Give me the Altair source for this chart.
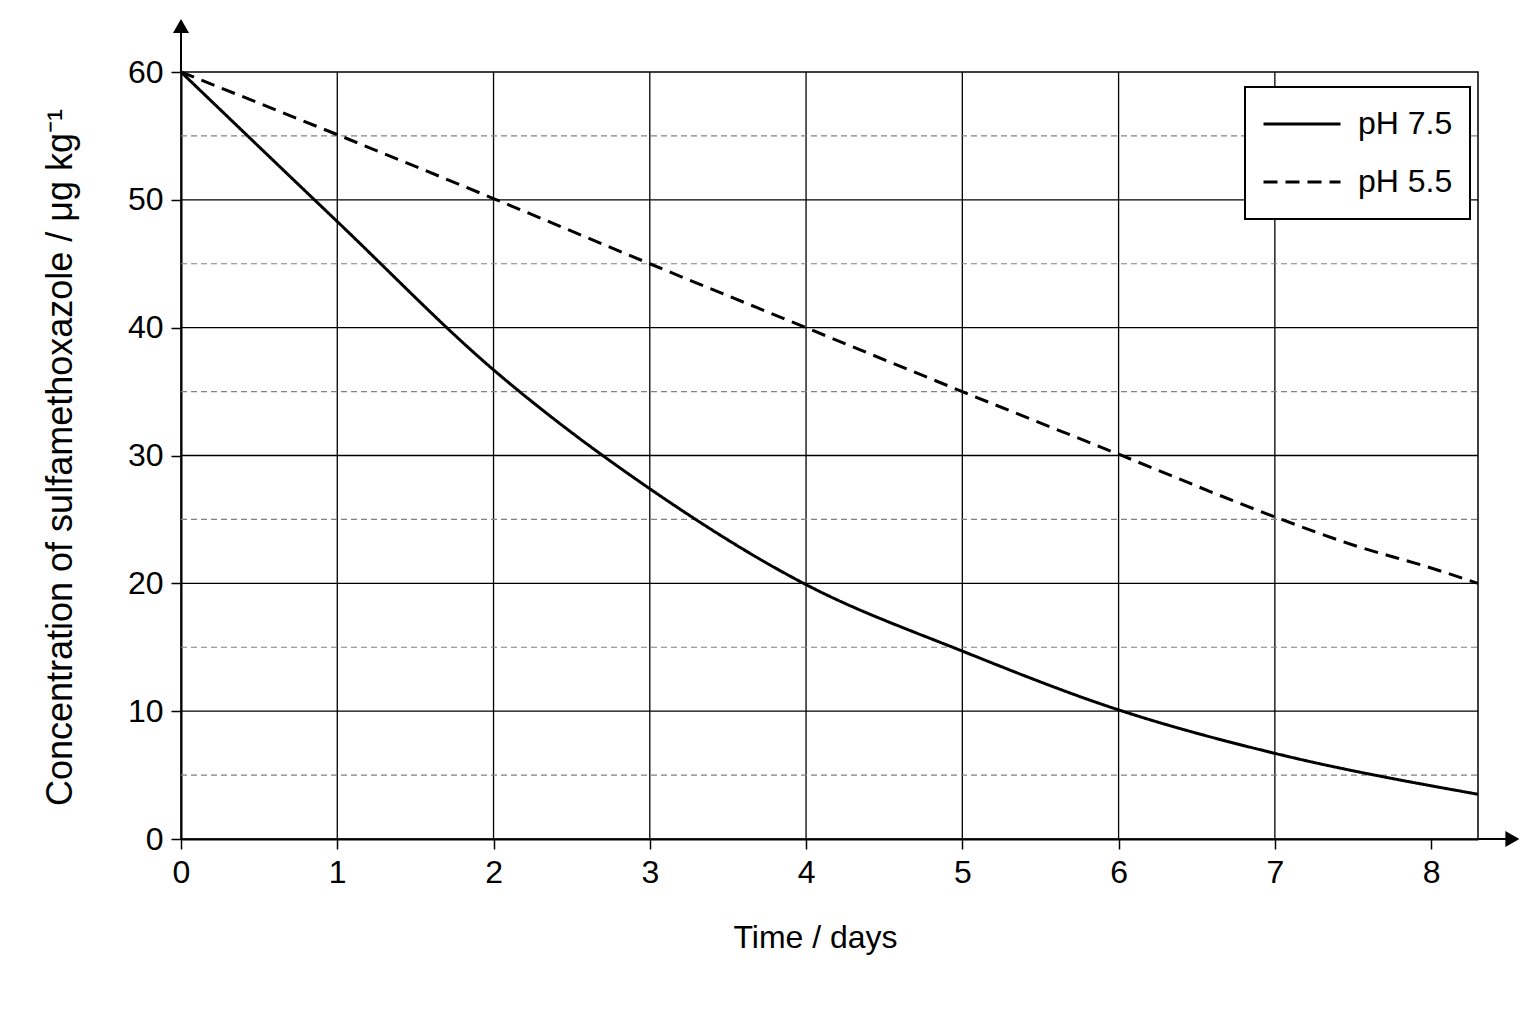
import altair as alt
import pandas as pd

# readings from the reference
days_75 = [0, 1, 2, 3, 4, 5, 6, 7, 8.3]
conc_75 = [60, 48.3, 36.7, 27.4, 19.9, 14.7, 10.1, 6.7, 3.5]

days_55 = [0, 1, 2, 3, 4, 5, 6, 7, 7.5, 8, 8.3]
conc_55 = [60, 55.1, 50.1, 45.0, 40.0, 35.0, 30.1, 25.2, 23.0, 21.2, 20.0]

x_ticks = [0, 1, 2, 3, 4, 5, 6, 7, 8]
y_ticks = [0, 10, 20, 30, 40, 50, 60]
x_grid = [1, 2, 3, 4, 5, 6, 7]
y_grid_major = [10, 20, 30, 40, 50]
y_grid_minor = [5, 15, 25, 35, 45, 55]

X_MAX = 8.3
Y_MAX = 60
FONT = "Liberation Sans"

df = pd.concat([
    pd.DataFrame({"day": days_75, "conc": conc_75, "series": "pH 7.5"}),
    pd.DataFrame({"day": days_55, "conc": conc_55, "series": "pH 5.5"}),
])

x_scale = alt.Scale(domain=[0, X_MAX], nice=False)
y_scale = alt.Scale(domain=[0, Y_MAX], nice=False)

# gridlines
vgrid = alt.Chart(pd.DataFrame({"x": x_grid})).mark_rule(color="black", strokeWidth=1.3).encode(
    x=alt.X("x:Q", scale=x_scale),
    y=alt.datum(0, scale=y_scale),
    y2=alt.datum(Y_MAX),
)
hgrid = alt.Chart(pd.DataFrame({"y": y_grid_major})).mark_rule(color="black", strokeWidth=1.3).encode(
    y=alt.Y("y:Q", scale=y_scale),
    x=alt.datum(0, scale=x_scale),
    x2=alt.datum(X_MAX),
)
hminor = alt.Chart(pd.DataFrame({"y": y_grid_minor})).mark_rule(
    color="#808080", strokeWidth=1.2, strokeDash=[6, 4]
).encode(
    y=alt.Y("y:Q", scale=y_scale),
    x=alt.datum(0, scale=x_scale),
    x2=alt.datum(X_MAX),
)

# arrow heads on the axes
y_arrow = alt.Chart(pd.DataFrame({"x": [0], "y": [Y_MAX], "y2": [63.5]})).mark_rule(
    color="black", strokeWidth=2
).encode(x=alt.X("x:Q", scale=x_scale), y=alt.Y("y:Q", scale=y_scale), y2="y2:Q")
y_head = alt.Chart(pd.DataFrame({"x": [0], "y": [63.6]})).mark_point(
    shape="triangle-up", filled=True, color="black", size=260, opacity=1
).encode(x=alt.X("x:Q", scale=x_scale), y=alt.Y("y:Q", scale=y_scale))
x_arrow = alt.Chart(pd.DataFrame({"x": [X_MAX], "x2": [8.5], "y": [0]})).mark_rule(
    color="black", strokeWidth=2
).encode(x=alt.X("x:Q", scale=x_scale), x2="x2:Q", y=alt.Y("y:Q", scale=y_scale))
x_head = alt.Chart(pd.DataFrame({"x": [8.52], "y": [0]})).mark_point(
    shape="triangle-right", filled=True, color="black", size=260, opacity=1
).encode(x=alt.X("x:Q", scale=x_scale), y=alt.Y("y:Q", scale=y_scale))

lines = alt.Chart(df).mark_line(interpolate="monotone", strokeWidth=3).encode(
    x=alt.X("day:Q", scale=x_scale, title="Time / days",
            axis=alt.Axis(values=x_ticks, format="d", titleX=634, titleY=108,
                          titleBaseline="alphabetic", titleFontSize=32)),
    y=alt.Y("conc:Q", scale=y_scale, title="Concentration of sulfamethoxazole / μg kg⁻¹",
            axis=alt.Axis(values=y_ticks, format="d", titleX=-121, titleY=385, titleBaseline="middle",
                          titleAlign="center", titleAngle=-90, titleFontSize=36)),
    color=alt.Color("series:N", sort=["pH 7.5", "pH 5.5"],
                    scale=alt.Scale(domain=["pH 7.5", "pH 5.5"], range=["black", "black"]),
                    legend=alt.Legend(title=None, orient="none", legendX=1064, legendY=15)),
    strokeDash=alt.StrokeDash("series:N", sort=["pH 7.5", "pH 5.5"],
                              scale=alt.Scale(domain=["pH 7.5", "pH 5.5"], range=[[1, 0], [14, 8]]),
                              legend=alt.Legend(title=None, orient="none", legendX=1064, legendY=15)),
)

chart = alt.layer(vgrid, hminor, hgrid, y_arrow, x_arrow, y_head, x_head, lines).properties(
    width=1297,
    height=767,
    autosize=alt.AutoSizeParams(type="none"),
    padding={"left": 173, "top": 64, "right": 50, "bottom": 177},
    background="white",
).configure_view(
    stroke="black", strokeWidth=1.5
).configure_axis(
    grid=False,
    domainColor="black",
    domainWidth=2,
    tickColor="black",
    tickWidth=1.5,
    tickSize=10,
    labelFlush=False,
    labelFont=FONT,
    labelFontSize=32,
    labelColor="black",
    titleFont=FONT,
    titleFontWeight="normal",
    titleColor="black",
).configure_axisX(
    labelPadding=8,
).configure_axisY(
    labelPadding=8,
).configure_legend(
    strokeColor="black",
    strokeWidth=2,
    fillColor="white",
    padding=17,
    labelFont=FONT,
    labelFontSize=32,
    labelColor="black",
    labelOffset=16,
    symbolType="stroke",
    symbolSize=5929,
    symbolStrokeWidth=3,
    symbolStrokeColor="black",
    clipHeight=40,
    rowPadding=18,
)

chart.save("out.html", embed_options={"renderer": "svg", "actions": False})
